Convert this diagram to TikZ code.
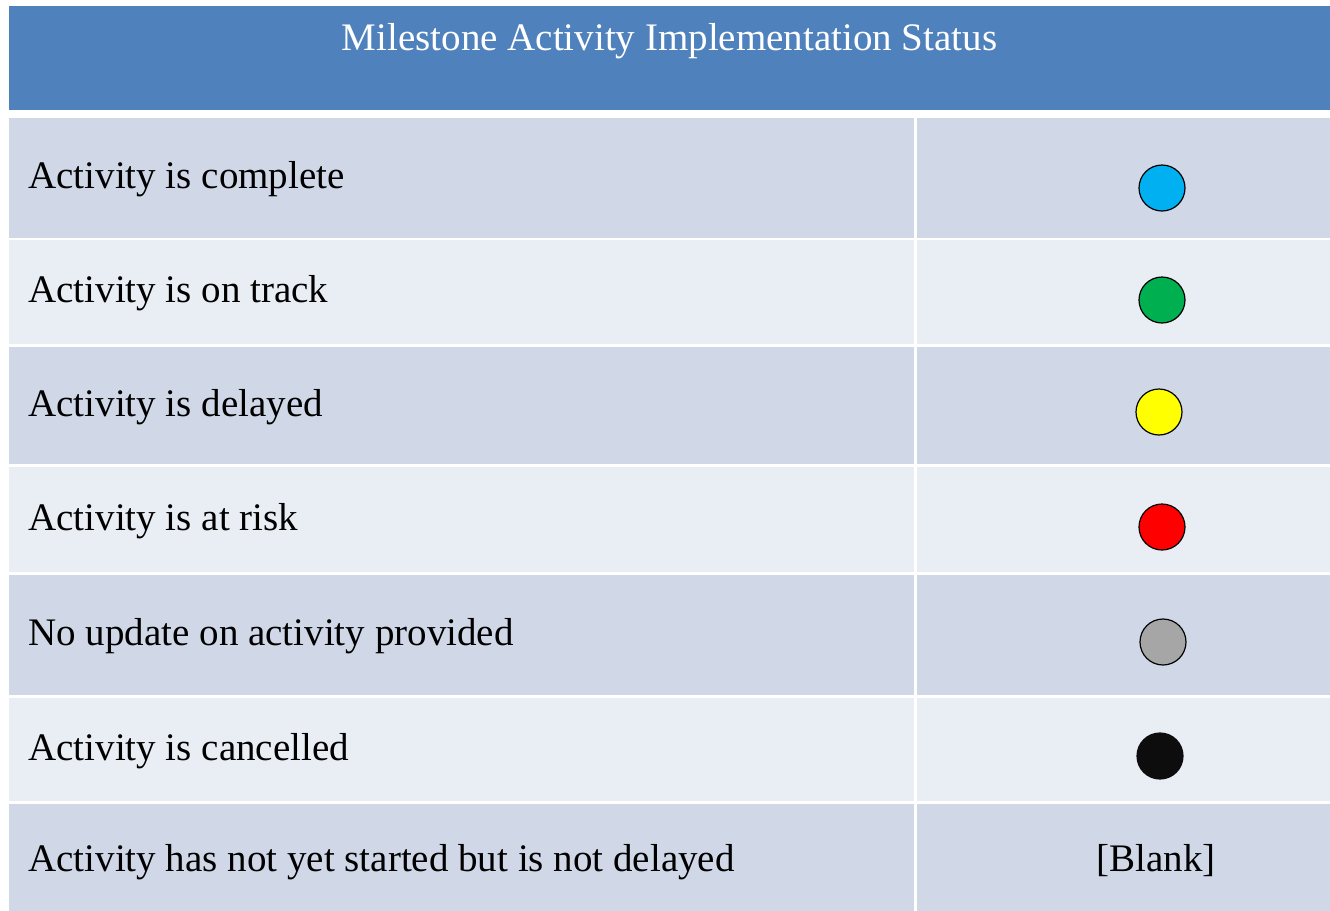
\documentclass[tikz,border=0pt]{standalone}
\usepackage{fontspec}
\setmainfont{Liberation Serif}
\usepackage{tikz}
\definecolor{hdrblue}{RGB}{79,129,189}
\definecolor{rowdark}{RGB}{208,216,232}
\definecolor{rowlight}{RGB}{233,237,244}
\definecolor{dotblue}{RGB}{0,176,240}
\definecolor{dotgreen}{RGB}{0,176,80}
\definecolor{dotyellow}{RGB}{255,255,0}
\definecolor{dotred}{RGB}{255,0,0}
\definecolor{dotgray}{RGB}{166,166,166}
\definecolor{dotblack}{RGB}{13,13,13}

\begin{document}
\begin{tikzpicture}[x=0.5pt,y=0.5pt,yscale=-1,xscale=1,
  lbl/.style={anchor=base west,inner sep=0pt,font=\fontsize{19.5}{23}\selectfont},
  dot/.style={circle,draw=black,line width=0.6pt,minimum size=23pt,inner sep=0pt}]
\useasboundingbox (0,0) rectangle (1330,911);

%Shape: Rectangle [header]
\fill [hdrblue] (9,6) rectangle (1330,110) ;

%Shape: Rectangle [rows, left column]
\fill [rowdark] (9,118) rectangle (914,238) ;
\fill [rowlight] (9,240) rectangle (914,344) ;
\fill [rowdark] (9,347) rectangle (914,464) ;
\fill [rowlight] (9,467) rectangle (914,572) ;
\fill [rowdark] (9,575) rectangle (914,695) ;
\fill [rowlight] (9,698) rectangle (914,801) ;
\fill [rowdark] (9,804) rectangle (914,911) ;

%Shape: Rectangle [rows, right column]
\fill [rowdark] (917,118) rectangle (1330,238) ;
\fill [rowlight] (917,240) rectangle (1330,344) ;
\fill [rowdark] (917,347) rectangle (1330,464) ;
\fill [rowlight] (917,467) rectangle (1330,572) ;
\fill [rowdark] (917,575) rectangle (1330,695) ;
\fill [rowlight] (917,698) rectangle (1330,801) ;
\fill [rowdark] (917,804) rectangle (1330,911) ;

% Text Node
\node [lbl,anchor=base,text=white] (title) at (669.5,50) {Milestone Activity Implementation Status};

% Text Node
\node [lbl] (complete) at (28,188) {Activity is complete};
% Text Node
\node [lbl] (ontrack) at (28,302) {Activity is on track};
% Text Node
\node [lbl] (delayed) at (28,416) {Activity is delayed};
% Text Node
\node [lbl] (atrisk) at (28,530) {Activity is at risk};
% Text Node
\node [lbl] (noupdate) at (28,645) {No update on activity provided};
% Text Node
\node [lbl] (cancelled) at (28,760) {Activity is cancelled};
% Text Node
\node [lbl] (notstarted) at (28,871) {Activity has not yet started but is not delayed};

%Shape: Circle
\node [dot,fill=dotblue] (dotcomplete) at (1162,188) {};
%Shape: Circle
\node [dot,fill=dotgreen] (dotontrack) at (1162,300) {};
%Shape: Circle
\node [dot,fill=dotyellow] (dotdelayed) at (1159,412) {};
%Shape: Circle
\node [dot,fill=dotred] (dotatrisk) at (1162,527) {};
%Shape: Circle
\node [dot,fill=dotgray] (dotnoupdate) at (1163,642) {};
%Shape: Circle
\node [dot,fill=dotblack,draw=dotblack] (dotcancelled) at (1160,756) {};

% Text Node
\node [lbl,anchor=base] (blank) at (1156,871) {[Blank]};

\end{tikzpicture}
\end{document}
